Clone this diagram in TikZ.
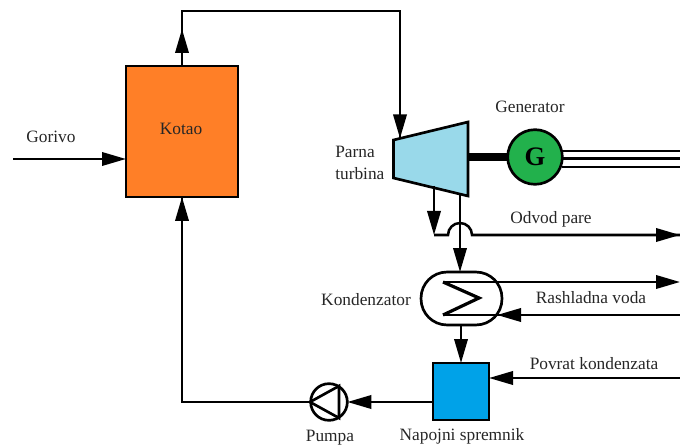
\documentclass[tikz,border=0pt]{standalone}
\usepackage{fontspec}
\setmainfont{Liberation Serif}
\usetikzlibrary{arrows.meta}
\definecolor{kotaoc}{HTML}{FF7F27}
\definecolor{turbc}{HTML}{99D9EA}
\definecolor{genc}{HTML}{22B14C}
\definecolor{tankc}{HTML}{00A2E8}
\tikzset{
  pipe/.style={line width=1.9pt,line join=miter},
  flow/.style={pipe,-{Triangle[length=18pt,width=10pt]}},
  thin pipe/.style={line width=1.6pt},
  lbl/.style={font=\fontsize{13}{16.5}\selectfont,inner sep=0pt,text=black!85},
  block/.style={draw=black,line width=2pt,inner sep=0pt,outer sep=0pt}
}
\begin{document}
\begin{tikzpicture}[x=0.75pt,y=-0.75pt]
\useasboundingbox (0,0) rectangle (680,448);
% blocks
\node[block,fill=kotaoc,minimum width=84pt,minimum height=98.2pt] (kotao) at (182,131.5) {};
\coordinate (t1) at (393.5,140);
\coordinate (t2) at (468,122);
\coordinate (t3) at (468,196);
\coordinate (t4) at (393.5,178);
\coordinate (shaftL) at (468,157);
\coordinate (turbOutA) at (434,186);
\coordinate (turbOutB) at (460,193);
\draw[block,fill=turbc] (t1) -- (t2) -- (t3) -- (t4) -- cycle;
\node[block,circle,fill=genc,minimum size=41pt] (gen) at (535,157) {\fontsize{20}{22}\selectfont\bfseries G};
\node[block,fill=tankc,minimum width=42pt,minimum height=42.7pt] (tank) at (461,391.5) {};
\node[block,fill=white,rounded corners=19.5pt,minimum width=60.7pt,minimum height=39.7pt] (cond) at (461.5,298.5) {};
\node[block,fill=white,circle,minimum size=27.5pt] (pump) at (329,402) {};
% steam to turbine
\coordinate (top1) at (182,11);
\coordinate (top2) at (400,11);
\coordinate (turbIn) at (400,138.4);
\draw[pipe] (kotao.north) -- (top1) -- (top2) -- (turbIn);
\coordinate (kotaoUp) at (182,29);
\draw[flow] (kotao.north) -- (kotaoUp);
\draw[flow] (top2) -- (turbIn);
% fuel
\coordinate (fuel) at (13,159);
\coordinate (fuelIn) at (126,159);
\draw[flow] (fuel) -- (fuelIn);
% shaft and generator outputs
\draw[line width=6.5pt] (shaftL) -- (gen.west);
\coordinate (g1a) at (562,150.7);
\coordinate (g1b) at (680,150.7);
\coordinate (g2a) at (563,158.5);
\coordinate (g2b) at (680,158.5);
\coordinate (g3a) at (562,166.7);
\coordinate (g3b) at (680,166.7);
\draw[thin pipe] (g1a) -- (g1b);
\draw[thin pipe] (g2a) -- (g2b);
\draw[thin pipe] (g3a) -- (g3b);
% steam extraction with hop
\coordinate (elbow) at (434,235);
\coordinate (hopL) at (448,235);
\coordinate (extr) at (680,235);
\draw[flow] (turbOutA) -- (elbow);
\draw[pipe] (elbow) -- (hopL) arc[start angle=180,end angle=0,radius=9pt] -- (extr);
\draw[flow] (hopL -| g1a) -- (extr);
\draw[flow] (turbOutB) -- (cond.north -| turbOutB);
% condenser coil
\coordinate (c1) at (443,282);
\coordinate (c2) at (479,298);
\coordinate (c3) at (443,315);
\coordinate (coolOut) at (680,282);
\coordinate (coolIn) at (680,315);
\coordinate (coolTip) at (497,315);
\draw[pipe] (c3) -- (coolIn);
\draw[line width=2.4pt,line join=miter] (c1) -- (c2) -- (c3);
\draw[flow] (c1) -- (coolOut);
\draw[flow] (coolIn) -- (coolTip);
% condensate
\draw[flow] (cond.south -| tank.center) -- (tank.north);
\coordinate (ret) at (680,378);
\draw[flow] (ret) -- (tank.east |- ret);
\coordinate (tankOut) at (433,402);
\draw[flow] (tankOut) -- (pump.east);
\coordinate (pt1) at (310,402);
\coordinate (pt2) at (339,386);
\coordinate (pt3) at (339,418);
\draw[line width=2pt] (pt1) -- (pt2) -- (pt3) -- cycle;
\coordinate (back) at (182,402);
\draw[pipe] (pump.west) -- (back) -- (kotao.south);
\coordinate (backUp) at (182,235);
\draw[flow] (backUp) -- (kotao.south);
% labels
\node[lbl] (lGorivo) at (51,137) {Gorivo};
\node[lbl] (lKotao) at (181,129) {Kotao};
\node[lbl,align=left,anchor=west] (lParna) at (335,163) {Parna\\turbina};
\node[lbl] (lGen) at (530,107) {Generator};
\node[lbl] (lOdvod) at (551,219) {Odvod pare};
\node[lbl] (lKond) at (366,300) {Kondenzator};
\node[lbl] (lRash) at (591,298) {Rashladna voda};
\node[lbl] (lPovrat) at (594,364) {Povrat kondenzata};
\node[lbl] (lPumpa) at (330,438) {Pumpa};
\node[lbl] (lNap) at (462,436) {Napojni spremnik};
\end{tikzpicture}
\end{document}
